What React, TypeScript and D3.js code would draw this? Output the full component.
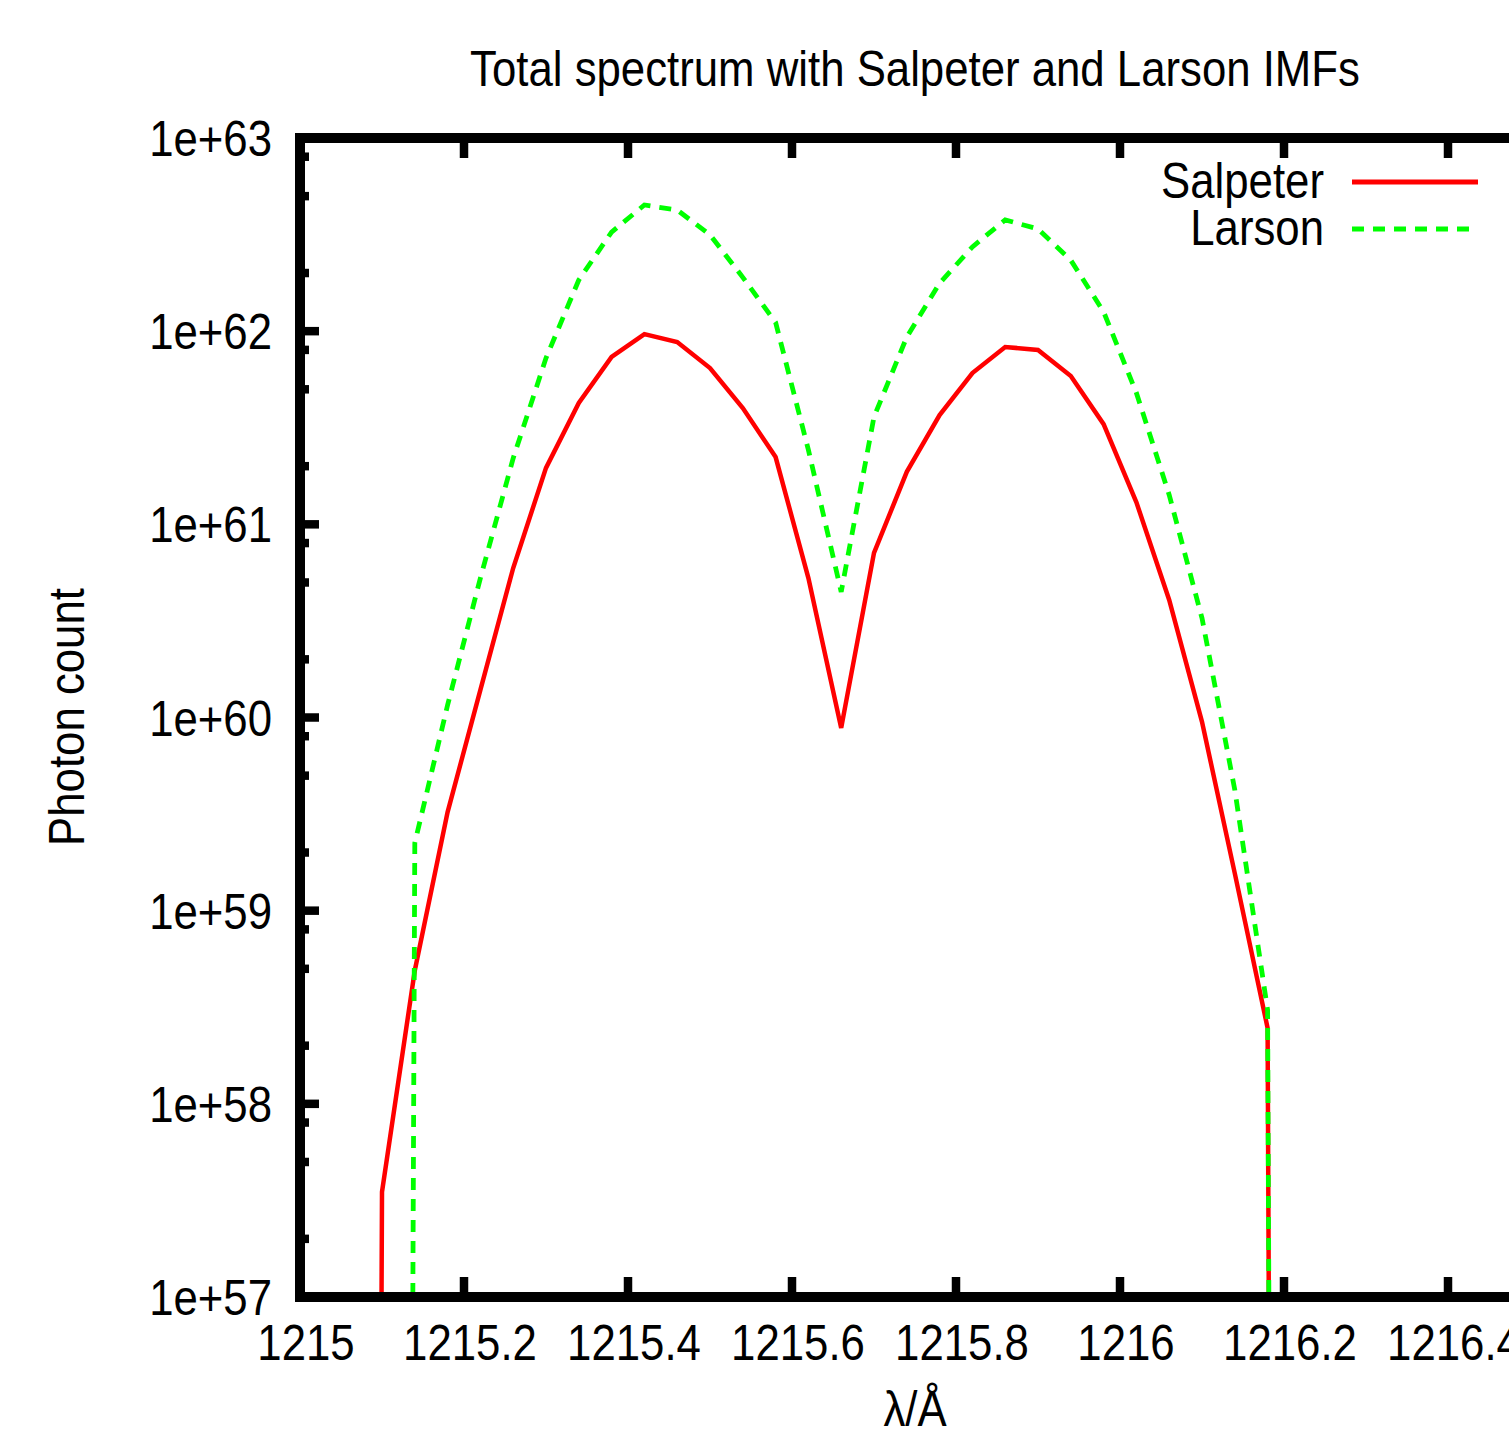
import React from "react";
import * as d3 from "d3";

// wavelengths (Å)
const wavelengths = [
  1215.06, 1215.10, 1215.14, 1215.18, 1215.22, 1215.26, 1215.30, 1215.34, 1215.38,
  1215.42, 1215.46, 1215.50, 1215.54, 1215.58, 1215.62, 1215.66, 1215.70, 1215.74,
  1215.78, 1215.82, 1215.86, 1215.90, 1215.94, 1215.98, 1216.02, 1216.06, 1216.10,
  1216.14, 1216.18, 1216.22,
];

// photon counts (values below the axis floor are essentially zero)
const salpeter = [
  1e20, 3.5e57, 4.9e58, 3.24e59, 1.39e60, 5.94e60, 1.96e61, 4.25e61, 7.35e61,
  9.66e61, 8.79e61, 6.44e61, 4.0e61, 2.23e61, 5.27e60, 8.83e59, 7.11e60, 1.87e61,
  3.68e61, 6.07e61, 8.28e61, 8.0e61, 5.86e61, 3.3e61, 1.3e61, 4.06e60, 9.5e59,
  1.56e59, 2.47e58, 1e20,
];

const larson = [
  1e20, 1e20, 2.24e59, 1.16e60, 5.27e60, 2.2e61, 7.26e61, 1.84e62, 3.26e62,
  4.5e62, 4.24e62, 3.15e62, 1.9e62, 1.11e62, 2.43e61, 4.47e60, 3.6e61, 9.33e61,
  1.77e62, 2.73e62, 3.77e62, 3.38e62, 2.33e62, 1.26e62, 4.79e61, 1.42e61, 3.27e60,
  4.22e59, 3.06e58, 1e20,
];

const xTicks = [1215, 1215.2, 1215.4, 1215.6, 1215.8, 1216, 1216.2, 1216.4];
const xTickLabels = ["1215", "1215.2", "1215.4", "1215.6", "1215.8", "1216", "1216.2", "1216.4"];
const yTicks = [1e57, 1e58, 1e59, 1e60, 1e61, 1e62, 1e63];
const yTickLabels = ["1e+57", "1e+58", "1e+59", "1e+60", "1e+61", "1e+62", "1e+63"];
const yMinorMultipliers = [2, 5, 8];

const seriesNames = ["Salpeter", "Larson"];
const seriesColors = ["#ff0000", "#00ff00"];

const W = 1509;
const H = 1430;
const left = 300;
const right = 1530;
const top = 138;
const bottom = 1297;

const FONT = "'Liberation Sans', Arial, Helvetica, sans-serif";
const FS = 50;
const SX = 0.875;

function T({ x, y, anchor = "start", rotate = 0, children }: any) {
  return (
    <g transform={`translate(${x},${y}) rotate(${rotate}) scale(${SX},1)`}>
      <text x={0} y={0} textAnchor={anchor} fontFamily={FONT} fontSize={FS} fill="#000">
        {children}
      </text>
    </g>
  );
}

export default function App() {
  const x = d3.scaleLinear().domain([1215, 1216.5]).range([left, right]);
  const y = d3.scaleLog().domain([1e57, 1e63]).range([bottom, top]);

  const line = d3
    .line<number>()
    .x((_, i) => x(wavelengths[i]))
    .y((d) => y(d));

  const minor: number[] = [];
  for (let k = 0; k < yTicks.length - 1; k++) {
    for (const m of yMinorMultipliers) minor.push(yTicks[k] * m);
  }

  const legendY = [182, 229];

  return (
    <div style={{ position: "absolute", left: 0, top: 0 }}>
      <svg width={W} height={H} style={{ display: "block", background: "#fff" }}>
        <defs>
          <clipPath id="plotclip">
            <rect x={left} y={top} width={right - left} height={bottom - top} />
          </clipPath>
        </defs>
        <rect x={0} y={0} width={W} height={H} fill="#fff" />

        {/* data */}
        <g clipPath="url(#plotclip)" fill="none" strokeLinejoin="miter">
          <path d={line(salpeter) || ""} stroke={seriesColors[0]} strokeWidth={4.5} />
          <path
            d={line(larson) || ""}
            stroke={seriesColors[1]}
            strokeWidth={4.8}
            strokeDasharray="12,9"
          />
        </g>

        {/* ticks */}
        <g stroke="#000" strokeWidth={8.5}>
          {xTicks.map((t, i) => (
            <g key={"xt" + i}>
              <line x1={x(t)} x2={x(t)} y1={bottom} y2={bottom - 20} />
              <line x1={x(t)} x2={x(t)} y1={top} y2={top + 20} />
            </g>
          ))}
          {yTicks.map((t, i) => (
            <line key={"yt" + i} x1={left} x2={left + 19} y1={y(t)} y2={y(t)} />
          ))}
          {minor.map((t, i) => (
            <line key={"ym" + i} x1={left} x2={left + 9} y1={y(t)} y2={y(t)} />
          ))}
        </g>

        {/* border */}
        <g stroke="#000" strokeWidth={10} fill="none" strokeLinecap="square">
          <line x1={left} x2={right} y1={top} y2={top} />
          <line x1={left} x2={right} y1={bottom} y2={bottom} />
          <line x1={left} x2={left} y1={top} y2={bottom} />
        </g>

        {/* tick labels */}
        {xTicks.map((t, i) => (
          <T key={"xl" + i} x={x(t) + 6} y={1360} anchor="middle">
            {xTickLabels[i]}
          </T>
        ))}
        {yTicks.map((t, i) => (
          <T key={"yl" + i} x={272} y={y(t) + 18} anchor="end">
            {yTickLabels[i]}
          </T>
        ))}

        {/* title and axis labels */}
        <T x={915} y={86} anchor="middle">
          Total spectrum with Salpeter and Larson IMFs
        </T>
        <T x={915} y={1426} anchor="middle">
          λ/Å
        </T>
        <T x={84} y={717} anchor="middle" rotate={-90}>
          Photon count
        </T>

        {/* legend */}
        {seriesNames.map((n, i) => (
          <g key={"lg" + i}>
            <T x={1324} y={legendY[i] + 16} anchor="end">
              {n}
            </T>
            <line
              x1={1352}
              x2={1478}
              y1={legendY[i]}
              y2={legendY[i]}
              stroke={seriesColors[i]}
              strokeWidth={4.8}
              strokeDasharray={i === 1 ? "12,9" : undefined}
            />
          </g>
        ))}
      </svg>
    </div>
  );
}
